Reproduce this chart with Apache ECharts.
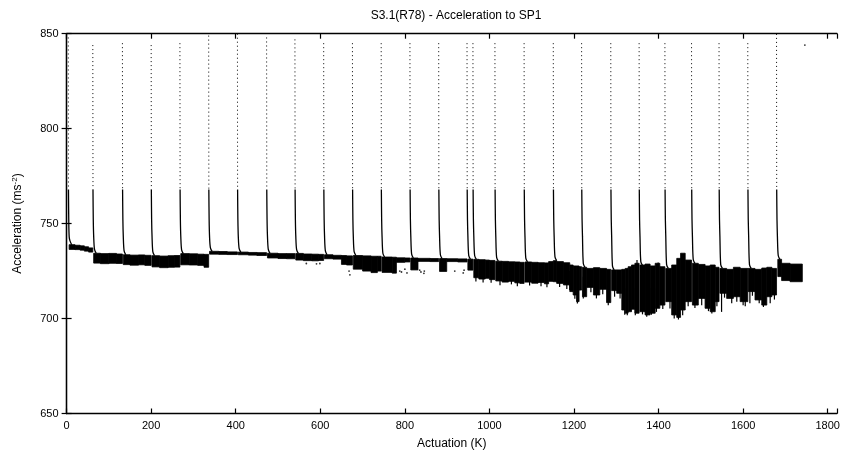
<!DOCTYPE html>
<html><head><meta charset="utf-8">
<script src="https://cdn.jsdelivr.net/npm/echarts@6/dist/echarts.min.js"></script>
<style>html,body{margin:0;padding:0;background:#fff}#c{width:858px;height:455px}</style>
</head><body><div id="c"></div>
<script>
// ---- data ----
var titleText = 'S3.1(R78) - Acceleration to SP1';
var xTicks = [0, 200, 400, 600, 800, 1000, 1200, 1400, 1600, 1800];
var yTicks = [650, 700, 750, 800, 850];

// reset spikes: actuation (K), top value, band level it settles to
var spikeX    = [4, 62, 132, 200, 268, 336, 404, 473, 540, 608, 676, 744, 812, 880, 947, 961, 1013, 1082, 1151, 1218, 1287, 1354, 1415, 1478, 1543, 1611, 1679];
var spikeTop  = [848, 844, 845, 844, 845, 849, 850, 848, 847, 845, 845, 845, 845, 845, 845, 845, 845, 845, 845, 845, 845, 845, 845, 845, 845, 845, 852];
var spikeBase = [738.9, 734.4, 733.6, 733.1, 734.2, 735.4, 735.0, 734.4, 734.3, 733.6, 733.2, 732.4, 731.9, 731.6, 731.3, 731.2, 730.2, 729.8, 730.5, 727.0, 725.6, 728.0, 726.4, 729.1, 726.4, 726.4, 731.2];
// decay shape after each reset: offset in K, value (relative values)
var tailDx = [0.4, 1.1, 2.1, 4.0, 8.0];
var tailY  = [768, 752, 743, null, null]; // last two settle onto base (+2, +0)
var tailSettle = [2, 0];

// band of readings: [from K, to K, low, high]
var band = [
  [6,20,736.4,738.9],[20,32,736.3,738.6],[32,42,736.0,738.3],[42,52,735.5,737.8],[52,62,735.0,737.2],
  [64,80,729.2,734.4],[80,100,728.9,734.2],[100,118,729.1,734.3],[118,132,729.0,734.0],
  [134,150,728.4,733.6],[150,170,728.1,733.4],[170,185,728.3,733.5],[185,200,728.0,733.3],
  [202,220,727.2,733.1],[220,240,726.8,732.9],[240,255,727.0,733.1],[255,268,727.1,733.2],
  [270,290,728.3,734.2],[290,310,728.2,734.1],[310,325,728.0,733.9],[325,336,727.0,733.8],
  [338,360,733.9,735.4],[360,380,733.8,735.3],[380,404,733.7,735.1],
  [406,430,733.6,735.0],[430,450,733.4,734.8],[450,473,733.2,734.7],
  [475,500,731.9,734.4],[500,520,731.6,734.2],[520,540,731.5,734.2],
  [542,560,730.8,734.3],[560,580,730.5,734.0],[580,596,730.4,733.9],[596,608,730.6,733.8],
  [610,630,731.5,733.6],[630,650,731.3,733.3],[650,662,728.5,733.2],[662,676,728.2,733.0],
  [678,700,726.0,733.2],[700,720,725.0,733.0],[720,735,724.2,732.8],[735,744,725.0,732.8],
  [746,770,724.3,732.4],[770,780,723.9,732.3],[780,800,729.6,732.0],[800,812,729.8,731.9],
  [814,831,725.6,731.9],[831,860,730.1,731.7],[860,880,730.0,731.6],
  [882,899,724.8,731.6],[899,925,730.0,731.5],[925,947,729.8,731.4],
  [949,961,725.5,731.3],
  [963,975,721.5,731.2],[975,990,720.8,731.0],[990,1000,721.2,730.8],[1000,1013,720.5,730.6],
  [1015,1030,719.8,730.2],[1030,1045,719.2,730.1],[1045,1060,719.6,729.9],[1060,1072,718.8,729.8],[1072,1082,718.5,729.6],
  [1084,1100,719.2,729.8],[1100,1115,718.6,729.6],[1115,1130,719.0,729.4],[1130,1140,718.3,729.3],[1140,1151,719.6,730.0],
  [1151,1159,719.4,730.5],[1159,1175,718.5,730.0],[1175,1190,717.7,729.4],[1190,1198,714.2,728.2],[1198,1206,712.4,727.7],[1206,1212,708.9,727.7],[1212,1218,715.0,727.3],
  [1220,1230,711.5,727.0],[1230,1246,716.4,726.4],[1246,1261,712.4,726.8],[1261,1277,715.4,726.4],[1277,1287,708.4,725.9],
  [1289,1301,714.7,725.6],[1301,1313,713.3,725.6],[1313,1321,704.5,725.9],[1321,1328,702.8,726.4],[1328,1336,703.6,727.3],[1336,1344,704.9,728.2],[1344,1354,702.8,729.1],
  [1356,1368,703.6,728.2],[1368,1380,701.9,728.7],[1380,1392,702.8,727.7],[1392,1403,705.4,729.1],[1403,1415,707.1,727.3],
  [1417,1431,708.9,726.4],[1431,1443,701.9,728.2],[1443,1452,700.6,731.7],[1452,1463,704.5,734.4],[1463,1478,708.9,730.8],
  [1480,1494,707.1,729.1],[1494,1510,710.6,728.5],[1510,1522,705.4,727.7],[1522,1534,703.6,728.2],[1534,1543,708.9,727.0],
  [1545,1561,713.3,726.4],[1561,1577,710.6,725.9],[1577,1593,711.5,727.0],[1593,1611,708.9,726.4],
  [1612,1628,714.2,726.4],[1628,1644,709.8,725.9],[1644,1656,707.1,726.6],[1656,1668,711.5,727.0],[1668,1679,712.4,726.4],
  [1682,1691,722.1,731.2],[1691,1711,720.0,729.1],[1711,1740,719.4,728.7]
];

// isolated deep / high readings inside the noisy stretch: [K, low, high]
var dips = [
  [968,719.5,725],[985,719.0,725],[1004,718.8,725],[1025,717.6,725],[1052,718.0,725],[1066,717.0,725],[1095,717.4,725],[1122,717.0,725],[1136,716.5,725],
  [1166,716.6,725],[1183,715.5,725],[1190,715.0,725],[1202,710.4,725],[1208,707.9,725],[1222,710.5,722],[1240,713.8,722],[1253,710.6,722],[1268,712.8,722],[1281,707.0,720],
  [1296,711.5,720],[1309,710.5,720],[1320,702.0,716],[1326,701.7,716],[1345,701.7,716],[1349,715,730.8],[1362,702.2,716],[1372,700.9,716],[1383,702.0,716],
  [1395,703.5,716],[1399,716,729.5],[1410,705.0,716],[1427,705.3,716],[1437,700.0,716],[1447,699.5,716],[1457,701.7,716],[1470,706.5,716],
  [1486,705.6,720],[1502,707.0,720],[1518,703.9,716],[1526,702.6,716],[1538,706.5,716],[1549,703.5,716],[1556,711.0,720],[1573,708.0,720],[1585,708.8,720],
  [1600,707.0,720],[1605,706.5,720],[1616,708.0,720],[1622,712.0,720],[1638,708.0,720],[1648,706.1,718],[1652,709.0,720],[1664,708.0,720],[1674,710.0,720]
];

// scattered single readings
var outliers = [
  [567,729.0],[591,728.8],[599,729.0],[668,725.0],[670,723.0],
  [788,725.0],[792,724.5],[800,726.0],[805,724.0],
  [835,725.5],[838,724.5],[845,723.8],[846,725.0],
  [918,725.0],[938,724.0],[940,725.5],[1746,844.0]
];

// ---- build series from data ----
var dotted = [], solid = [];
for (var i = 0; i < spikeX.length; i++) {
  var sx = spikeX[i];
  dotted.push([sx, spikeTop[i]], [sx + tailDx[0], tailY[0]], null);
  for (var k = 0; k < tailDx.length; k++) {
    var yv = tailY[k] !== null ? tailY[k] : spikeBase[i] + tailSettle[k - 3];
    solid.push([sx + tailDx[k], yv]);
  }
  solid.push(null);
}

function rectItem(params, api) {
  var p0 = api.coord([api.value(0), api.value(3)]);
  var p1 = api.coord([api.value(1), api.value(2)]);
  return { type: 'rect', shape: { x: p0[0], y: p0[1], width: Math.max(p1[0] - p0[0], 1), height: Math.max(p1[1] - p0[1], 1) },
           style: { fill: '#000', stroke: '#000', lineWidth: 0.8 } };
}
function dipItem(params, api) {
  var p0 = api.coord([api.value(0), api.value(2)]);
  var p1 = api.coord([api.value(0), api.value(1)]);
  return { type: 'rect', shape: { x: p0[0] - 0.6, y: p0[1], width: 1.2, height: p1[1] - p0[1] }, style: { fill: '#000' } };
}

var font = 'Liberation Sans, Arial, Helvetica, sans-serif';
var chart = echarts.init(document.getElementById('c'), null, { renderer: 'canvas' });
var axisLine = { show: true, lineStyle: { color: '#000', width: 1.3 } };
var axisTick = { show: true, inside: true, length: 5, lineStyle: { color: '#000', width: 1.2 } };
chart.setOption({
  animation: false,
  backgroundColor: '#fff',
  title: { text: titleText, left: 451, top: 5, textAlign: 'center',
    textStyle: { fontFamily: font, fontSize: 12, fontWeight: 'normal', color: '#000' } },
  grid: { left: 66.6, right: 21, top: 33.7, bottom: 41.5, containLabel: false },
  xAxis: [{
    type: 'value', min: 0, max: 1822, interval: 200, position: 'bottom',
    name: 'Actuation (K)', nameLocation: 'middle', nameGap: 24,
    nameTextStyle: { fontFamily: font, fontSize: 12, color: '#000' },
    axisLine: axisLine, axisTick: axisTick, splitLine: { show: false },
    axisLabel: { fontFamily: font, fontSize: 11, color: '#000', margin: 7,
      formatter: function (v) { return xTicks.indexOf(v) >= 0 ? String(v) : ''; } }
  }, {
    type: 'value', min: 0, max: 1822, interval: 200, position: 'top',
    axisLine: axisLine, axisTick: axisTick, axisLabel: { show: false }, splitLine: { show: false }
  }],
  yAxis: [{
    type: 'value', min: 650, max: 850, interval: 50, position: 'left',
    name: '{a|Acceleration (ms}{s|-2}{a|)}', nameLocation: 'middle', nameGap: 42, nameRotate: 90,
    nameTextStyle: { rich: { a: { fontFamily: font, fontSize: 12, color: '#000' },
                             s: { fontFamily: font, fontSize: 8, color: '#000', verticalAlign: 'top', padding: [0, 0, 6, 0] } } },
    axisLine: axisLine, axisTick: axisTick, splitLine: { show: false },
    axisLabel: { fontFamily: font, fontSize: 11, color: '#000', margin: 8,
      formatter: function (v) { return yTicks.indexOf(v) >= 0 ? String(v) : ''; } }
  }, {
    type: 'value', min: 650, max: 850, interval: 50, position: 'right',
    axisLine: axisLine, axisTick: axisTick, axisLabel: { show: false }, splitLine: { show: false }
  }],
  series: [
    { type: 'custom', renderItem: rectItem, data: band, encode: { x: [0, 1], y: [2, 3] }, silent: true },
    { type: 'custom', renderItem: dipItem, data: dips, encode: { x: 0, y: [1, 2] }, silent: true },
    { type: 'line', data: dotted, showSymbol: false, connectNulls: false, clip: true, silent: true,
      lineStyle: { color: '#000', width: 1, type: [1, 3] } },
    { type: 'line', data: solid, showSymbol: false, connectNulls: false, clip: true, silent: true, smooth: 0.3,
      lineStyle: { color: '#000', width: 1.3 } },
    { type: 'scatter', data: outliers, symbolSize: 1.8, itemStyle: { color: '#000' }, silent: true }
  ]
});
</script></body></html>
